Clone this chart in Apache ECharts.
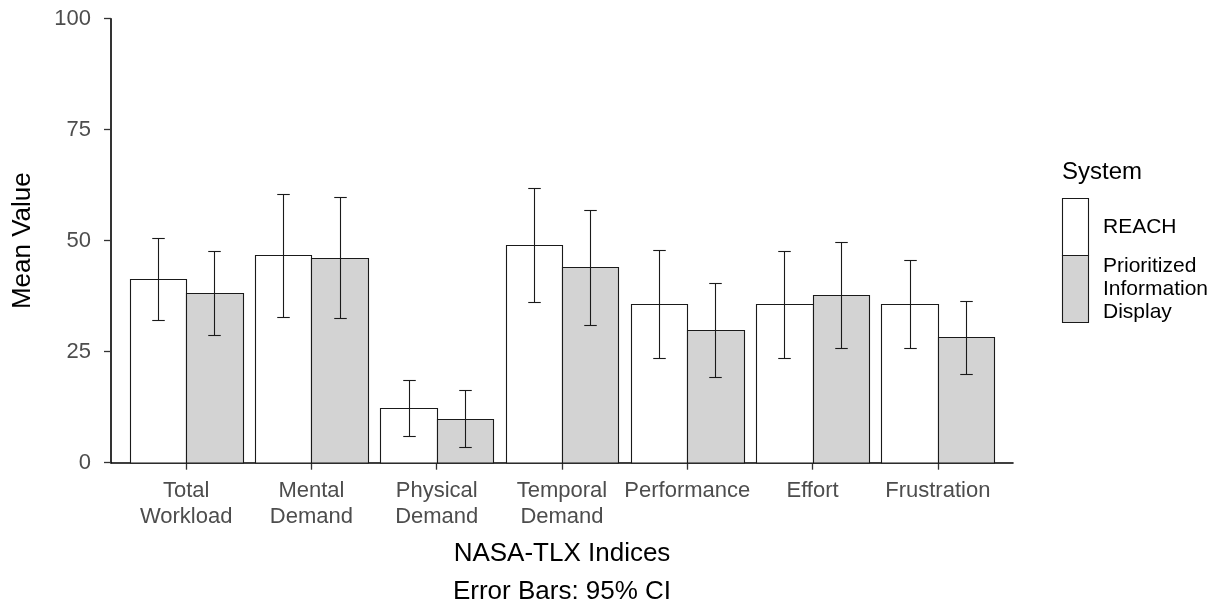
<!DOCTYPE html>
<html>
<head>
<meta charset="utf-8">
<title>NASA-TLX Indices by System</title>
<script src="https://cdn.jsdelivr.net/npm/echarts@6.0.0/dist/echarts.min.js"></script>
<style>
  html, body { margin: 0; padding: 0; background: #ffffff; }
  #chart { width: 1222px; height: 606px; }
</style>
</head>
<body>
<div id="chart"></div>
<script>
// NASA-TLX subscale means with 95% confidence intervals, per display system
const categories = ['Total\nWorkload', 'Mental\nDemand', 'Physical\nDemand', 'Temporal\nDemand', 'Performance', 'Effort', 'Frustration'];
const seriesNames = ['REACH', 'Prioritized\nInformation\nDisplay'];
const seriesFills = ['#FFFFFF', '#D3D3D3'];

const reachMean = [41.4, 46.7, 12.3, 49.0, 35.7, 35.7, 35.7];
const reachLow  = [32.1, 32.8,  6.0, 36.3, 23.5, 23.6, 25.8];
const reachHigh = [50.7, 60.5, 18.6, 61.9, 48.0, 47.7, 45.7];

const pidMean = [38.3, 46.2,  9.9, 44.1, 29.9, 37.8, 28.2];
const pidLow  = [28.8, 32.6,  3.5, 31.1, 19.2, 25.9, 20.0];
const pidHigh = [47.6, 59.8, 16.4, 56.9, 40.5, 49.7, 36.5];

const yTicks = [0, 25, 50, 75, 100];

const FONT = "'Liberation Sans', Arial, Helvetica, sans-serif";
const DODGE = 0.9;          // total width of a dodged pair, in category units
const HALF_BAR = DODGE / 4; // half width of one bar
const WHISKER = 0.05;       // half width of the error bar caps

function rows(mean, low, high) {
  return mean.map((m, i) => [i + 1, m, low[i], high[i]]);
}

function renderBar(params, api) {
  const x = api.value(0);
  const mean = api.value(1);
  const lo = api.value(2);
  const hi = api.value(3);
  const centre = x + (params.seriesIndex === 0 ? -HALF_BAR : HALF_BAR);

  const topLeft = api.coord([centre - HALF_BAR, mean]);
  const botRight = api.coord([centre + HALF_BAR, 0]);
  const left = Math.round(topLeft[0]) + 0.5;
  const right = Math.round(botRight[0]) + 0.5;
  const top = Math.round(topLeft[1]) + 0.5;
  const bottom = Math.round(botRight[1]);

  const cx = Math.round(api.coord([centre, 0])[0]) + 0.5;
  const capHalf = api.coord([centre + WHISKER, 0])[0] - api.coord([centre, 0])[0];
  const yHi = Math.round(api.coord([centre, hi])[1]) + 0.5;
  const yLo = Math.round(api.coord([centre, lo])[1]) + 0.5;

  const lineStyle = { stroke: '#1a1a1a', lineWidth: 1.1, fill: null };
  return {
    type: 'group',
    children: [
      {
        type: 'rect',
        shape: { x: left, y: top, width: right - left, height: bottom - top },
        style: { fill: seriesFills[params.seriesIndex], stroke: '#1a1a1a', lineWidth: 1.1 }
      },
      { type: 'line', shape: { x1: cx, y1: yHi, x2: cx, y2: yLo }, style: lineStyle },
      { type: 'line', shape: { x1: cx - capHalf, y1: yHi, x2: cx + capHalf, y2: yHi }, style: lineStyle },
      { type: 'line', shape: { x1: cx - capHalf, y1: yLo, x2: cx + capHalf, y2: yLo }, style: lineStyle }
    ]
  };
}

// Legend drawn as graphic keys (keys of unequal height, ggplot style)
const legendX = 1062;
const keyW = 26;
const legendKeys = [
  { top: 198, height: 57, labelY: 227 },
  { top: 255, height: 67, labelY: 289 }
];
const legendGraphic = [
  {
    type: 'text', left: legendX, top: 160,
    style: { text: 'System', font: '24px ' + FONT, fill: '#000000' }
  }
];
legendKeys.forEach((k, i) => {
  legendGraphic.push({
    type: 'rect',
    shape: { x: legendX + 0.5, y: k.top + 0.5, width: keyW, height: k.height },
    style: { fill: seriesFills[i], stroke: '#1a1a1a', lineWidth: 1.1 }
  });
  legendGraphic.push({
    type: 'text', x: legendX + 41, y: k.labelY,
    style: {
      text: seriesNames[i], font: '21px ' + FONT, fill: '#000000',
      verticalAlign: 'middle', lineHeight: 23
    }
  });
});

const chart = echarts.init(document.getElementById('chart'), null, { renderer: 'canvas' });

chart.setOption({
  backgroundColor: '#ffffff',
  animation: false,
  textStyle: { fontFamily: FONT },
  grid: {
    left: 111, right: 209, top: 18.7, bottom: 143.3,
    containLabel: false, outerBoundsMode: 'none'
  },
  xAxis: {
    type: 'value',
    min: 0.4,
    max: 7.6,
    splitLine: { show: false },
    axisLine: { show: true, onZero: false, lineStyle: { color: '#000000', width: 1.6 } },
    axisTick: {
      show: true, length: 7, customValues: [1, 2, 3, 4, 5, 6, 7],
      lineStyle: { color: '#333333', width: 1.3 }
    },
    axisLabel: {
      customValues: [1, 2, 3, 4, 5, 6, 7],
      formatter: v => categories[Math.round(v) - 1],
      fontSize: 22, color: '#4D4D4D', lineHeight: 26, margin: 15,
      fontFamily: FONT
    },
    name: 'NASA-TLX Indices\nError Bars: 95% CI',
    nameLocation: 'middle',
    nameGap: 72,
    nameTextStyle: { fontSize: 26, color: '#000000', lineHeight: 38, fontFamily: FONT }
  },
  yAxis: {
    type: 'value',
    min: 0,
    max: 100,
    interval: 25,
    splitLine: { show: false },
    axisLine: { show: true, lineStyle: { color: '#000000', width: 1.6 } },
    axisTick: { show: true, length: 7, lineStyle: { color: '#333333', width: 1.3 } },
    axisLabel: {
      fontSize: 22, color: '#4D4D4D', margin: 20, fontFamily: FONT,
      formatter: v => (yTicks.indexOf(v) >= 0 ? String(v) : '')
    },
    name: 'Mean Value',
    nameLocation: 'middle',
    nameGap: 75,
    nameTextStyle: { fontSize: 26, color: '#000000', fontFamily: FONT }
  },
  legend: { show: false },
  tooltip: { show: false },
  graphic: legendGraphic,
  series: [
    {
      name: seriesNames[0],
      type: 'custom',
      renderItem: renderBar,
      encode: { x: 0, y: [1, 2, 3] },
      data: rows(reachMean, reachLow, reachHigh),
      z: 2
    },
    {
      name: seriesNames[1],
      type: 'custom',
      renderItem: renderBar,
      encode: { x: 0, y: [1, 2, 3] },
      data: rows(pidMean, pidLow, pidHigh),
      z: 2
    }
  ]
});
</script>
</body>
</html>
